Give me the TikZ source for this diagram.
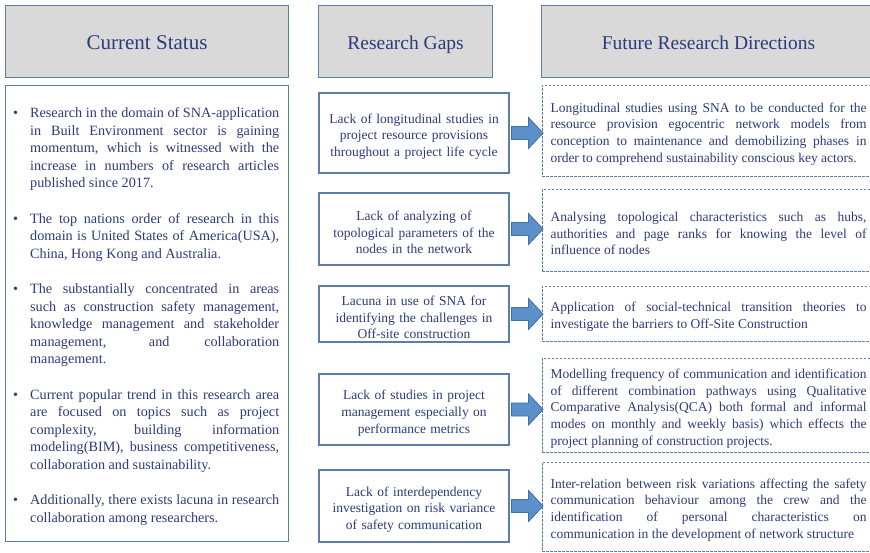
\documentclass[tikz,border=0pt]{standalone}
\usepackage{fontspec}
\setmainfont{Liberation Serif}
\definecolor{ink}{HTML}{2E3A7C}
\definecolor{frame}{HTML}{5A7DAA}
\definecolor{headfill}{HTML}{D9D9D9}
\definecolor{arrowfill}{HTML}{5B90CA}
\definecolor{arrowline}{HTML}{41719C}
\newcommand{\bodyfont}{\fontsize{13.5}{16.7}\selectfont\tolerance=9999\hbadness=10000\hyphenpenalty=10000\exhyphenpenalty=10000}
\newcommand{\listfont}{\fontsize{14.2}{17.6}\selectfont\tolerance=9999\hbadness=10000\hyphenpenalty=10000\exhyphenpenalty=10000}
% bullet hung in the left margin of a list paragraph
\newcommand{\listitem}{\noindent\strut\llap{\textbullet\hspace{12pt}}}
\begin{document}
\begin{tikzpicture}[x=1pt,y=-1pt,
  headbox/.style={draw=frame, line width=1.1pt, fill=headfill, inner sep=0pt, text=ink, anchor=north west,
    minimum height=72pt, text depth=2pt},
  bodybox/.style={draw=frame, line width=1.1pt, fill=white, inner sep=0pt, anchor=north west},
  gapbox/.style={draw=frame, line width=1.1pt, fill=white, inner sep=0pt, minimum width=190pt},
  gaptext/.style={inner sep=0pt, text=ink, text width=186pt, align=center, font=\bodyfont, yshift=-3.5pt},
  ideabox/.style={draw=frame, line width=0.8pt, dash pattern=on 2.5pt off 1.5pt, fill=white, inner sep=0pt,
    minimum width=333pt},
  ideatext/.style={inner sep=0pt, text=ink, text width=316pt, align=justify, font=\bodyfont, yshift=-3.5pt},
  listtext/.style={inner sep=0pt, text=ink, text width=249pt, align=justify, font=\listfont, anchor=north west},
  blockarrow/.style={fill=arrowfill, draw=arrowline, line width=0.8pt, line join=miter}]
\path[use as bounding box] (0,0) rectangle (870,552);
\clip (0,0) rectangle (870,552);
\fill[white] (0,0) rectangle (870,552);

% column headings
\node[headbox, minimum width=283pt, text height=18pt, font=\fontsize{21}{25}\selectfont] (h1) at (5,5) {Current Status};
\node[headbox, minimum width=174pt, text height=17pt, font=\fontsize{19.5}{24}\selectfont] (h2) at (318,5) {Research Gaps};
\node[headbox, minimum width=334pt, text height=17pt, font=\fontsize{19.5}{24}\selectfont] (h3) at (541,5) {Future Research Directions};

% current status: bullet list
\node[bodybox, minimum width=283pt, minimum height=456pt] (cs) at (5,85) {};
\node[listtext] (cslist) at (30,105) {%
\listitem Research in the domain of SNA-application\linebreak
in Built Environment sector is gaining\linebreak
momentum, which is witnessed with the\linebreak
increase in numbers of research articles\linebreak
published since 2017.\par\vspace{17.6pt}
\listitem The top nations order of research in this\linebreak
domain is United States of America(USA),\linebreak
China, Hong Kong and Australia.\par\vspace{17.6pt}
\listitem The substantially concentrated in areas\linebreak
such as construction safety management,\linebreak
knowledge management and stakeholder\linebreak
management, and collaboration\linebreak
management.\par\vspace{17.6pt}
\listitem Current popular trend in this research area\linebreak
are focused on topics such as project\linebreak
complexity, building information\linebreak
modeling(BIM), business competitiveness,\linebreak
collaboration and sustainability.\par\vspace{17.6pt}
\listitem Additionally, there exists lacuna in research\linebreak
collaboration among researchers.};

% research gaps: frames
\node[gapbox, minimum height=80pt] (g1) at (414,133) {};
\node[gapbox, minimum height=72pt] (g2) at (414,229) {};
\node[gapbox, minimum height=56pt] (g3) at (414,314) {};
\node[gapbox, minimum height=71pt] (g4) at (414,409.5) {};
\node[gapbox, minimum height=72pt] (g5) at (414,506) {};
% research gaps: texts
\node[gaptext] (g1t) at (g1.center) {Lack of longitudinal studies in\\project resource provisions\\throughout a project life cycle};
\node[gaptext] (g2t) at (g2.center) {Lack of analyzing of\\topological parameters of the\\nodes in the network};
\node[gaptext] (g3t) at (g3.center) {Lacuna in use of SNA for\\identifying the challenges in\\Off-site construction};
\node[gaptext] (g4t) at (g4.center) {Lack of studies in project\\management especially on\\performance metrics};
\node[gaptext] (g5t) at (g5.center) {Lack of interdependency\\investigation on risk variance\\of safety communication};

% future research directions: frames
\node[ideabox, minimum height=91pt] (f1) at (708.5,130.5) {};
\node[ideabox, minimum height=82pt] (f2) at (708.5,230) {};
\node[ideabox, minimum height=55pt] (f3) at (708.5,313.5) {};
\node[ideabox, minimum height=94pt] (f4) at (708.5,405) {};
\node[ideabox, minimum height=89pt] (f5) at (708.5,506.5) {};
% future research directions: texts
\node[ideatext] (f1t) at (f1.center) {Longitudinal studies using SNA to be conducted for the\linebreak
resource provision egocentric network models from\linebreak
conception to maintenance and demobilizing phases in\linebreak
order to comprehend sustainability conscious key actors.};
\node[ideatext] (f2t) at (f2.center) {Analysing topological characteristics such as hubs,\linebreak
authorities and page ranks for knowing the level of\linebreak
influence of nodes};
\node[ideatext] (f3t) at (f3.center) {Application of social-technical transition theories to\linebreak
investigate the barriers to Off-Site Construction};
\node[ideatext] (f4t) at (f4.center) {Modelling frequency of communication and identification\linebreak
of different combination pathways using Qualitative\linebreak
Comparative Analysis(QCA) both formal and informal\linebreak
modes on monthly and weekly basis) which effects the\linebreak
project planning of construction projects.};
\node[ideatext] (f5t) at (f5.center) {Inter-relation between risk variations affecting the safety\linebreak
communication behaviour among the crew and the\linebreak
identification of personal characteristics on\linebreak
communication in the development of network structure};

% block arrows from each gap to its direction
\foreach \i in {1,...,5}
  \draw[blockarrow] ([xshift=2pt]g\i.east) ++(0,6.5) -- ++(17,0) -- ++(0,9) -- ++(14.5,-15.5)
    -- ++(-14.5,-15.5) -- ++(0,9) -- ++(-17,0) -- cycle;
\end{tikzpicture}
\end{document}
